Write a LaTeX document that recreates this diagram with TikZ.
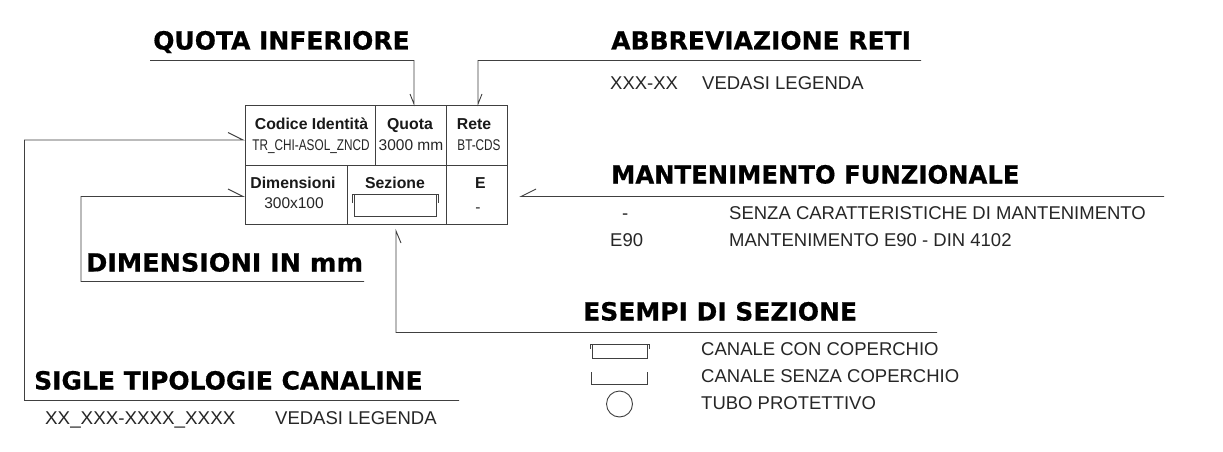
\documentclass[tikz,border=0pt]{standalone}
\usepackage{fontspec}
\setmainfont{Liberation Sans}
\newfontfamily\headfont[BoldFeatures={FakeBold=0.6}]{DejaVu Sans}
\begin{document}
\begin{tikzpicture}[x=1pt,y=-1pt,
  line/.style={draw=black!75,line width=0.9pt},
  ln/.style={line,line join=miter},
  head/.style={inner sep=0pt,anchor=base west,font=\headfont\fontsize{25}{25}\selectfont\bfseries,text=black},
  body/.style={inner sep=0pt,anchor=base west,font=\fontsize{18.5}{18.5}\selectfont,text=black!85},
  cellh/.style={inner sep=0pt,anchor=base,font=\fontsize{15.8}{16}\selectfont\bfseries,text=black!90},
  cellt/.style={inner sep=0pt,anchor=base,font=\fontsize{15.5}{16}\selectfont,text=black!85}]
\useasboundingbox (0,0) rectangle (1223,452);
\fill[white] (0,0) rectangle (1223,452);
% table
\coordinate (tl) at (245.5,105.5);
\coordinate (br) at (507.5,224.5);
\draw[ln] (tl) rectangle (br);
\draw[ln] (245.5,165.5) -- (507.5,165.5);
\draw[ln] (375.5,105.5) -- (375.5,165.5);
\draw[ln] (446,105.5) -- (446,224.5);
\draw[ln] (347,165.5) -- (347,224.5);
% table text
\node[cellh] (c1) at (311.5,129) {Codice Identità};
\node[cellt,xscale=0.76] (c2) at (311,150) {TR\_CHI-ASOL\_ZNCD};
\node[cellh] (c3) at (410,129) {Quota};
\node[cellt] (c4) at (411,150) {3000 mm};
\node[cellh] (c5) at (474,129) {Rete};
\node[cellt,xscale=0.76] (c6) at (479,150) {BT-CDS};
\node[cellh] (c7) at (293,188) {Dimensioni};
\node[cellt] (c8) at (294,208) {300x100};
\node[cellh] (c9) at (395,188) {Sezione};
\node[cellh] (c10) at (480.5,188) {E};
\node[cellt] (c11) at (478,212) {-};
% section in table
\draw[ln] (352,203) -- (352,194) -- (438,194) -- (438,203);
\draw[ln] (354,194) -- (354,216) -- (436,216) -- (436,194);
% headings
\node[head] (h1) at (153,49.5) {QUOTA INFERIORE};
\node[head] (h2) at (611,49.5) {ABBREVIAZIONE RETI};
\node[head,xscale=0.973] (h3) at (611,183.5) {MANTENIMENTO FUNZIONALE};
\node[head,xscale=1.02] (h4) at (86,271.5) {DIMENSIONI IN mm};
\node[head] (h5) at (583,320.5) {ESEMPI DI SEZIONE};
\node[head] (h6) at (34,389.5) {SIGLE TIPOLOGIE CANALINE};
% body text
\node[body] (b1) at (610,89) {XXX-XX};
\node[body] (b2) at (702,89) {VEDASI LEGENDA};
\node[body] (b3) at (622,219.5) {-};
\node[body] (b4) at (729,219.5) {SENZA CARATTERISTICHE DI MANTENIMENTO};
\node[body] (b5) at (610,246) {E90};
\node[body] (b6) at (729,246) {MANTENIMENTO E90 - DIN 4102};
\node[body] (b7) at (701,355) {CANALE CON COPERCHIO};
\node[body] (b8) at (701,382) {CANALE SENZA COPERCHIO};
\node[body] (b9) at (701,409) {TUBO PROTETTIVO};
\node[body,xscale=1.016] (b10) at (45,424) {XX\_XXX-XXXX\_XXXX};
\node[body] (b11) at (275,424) {VEDASI LEGENDA};
% connectors with half barbs
\coordinate (a1) at (414,104); \coordinate (a2) at (478,104);
\coordinate (a3) at (243,140); \coordinate (a4) at (243,196.5);
\coordinate (a5) at (521,196.5); \coordinate (a6) at (396,231);
\draw[ln] (150,60.5) -- (414,60.5) -- (a1) -- (410,94);
\draw[ln] (921,60.5) -- (478,60.5) -- (a2) -- (482,94);
\draw[ln] (459,400.5) -- (24.5,400.5) -- (24.5,140) -- (a3) -- (228,132.5);
\draw[ln] (364,281.5) -- (81,281.5) -- (81,196.5) -- (a4) -- (228,189);
\draw[ln] (1164,196.5) -- (a5) -- (536,189);
\draw[ln] (937,332.5) -- (396,332.5) -- (a6) -- (401,243);
% section legend
\draw[ln] (590,349) -- (590,344.5) -- (649,344.5) -- (649,349);
\draw[ln] (592,344.5) -- (592,358.5) -- (647,358.5) -- (647,344.5);
\draw[ln] (591.5,372) -- (591.5,384) -- (647,384) -- (647,372);
\node[draw=black!75,line width=0.9pt,circle,minimum size=26pt,inner sep=0pt] (tube) at (619.5,404) {};
\end{tikzpicture}
\end{document}
